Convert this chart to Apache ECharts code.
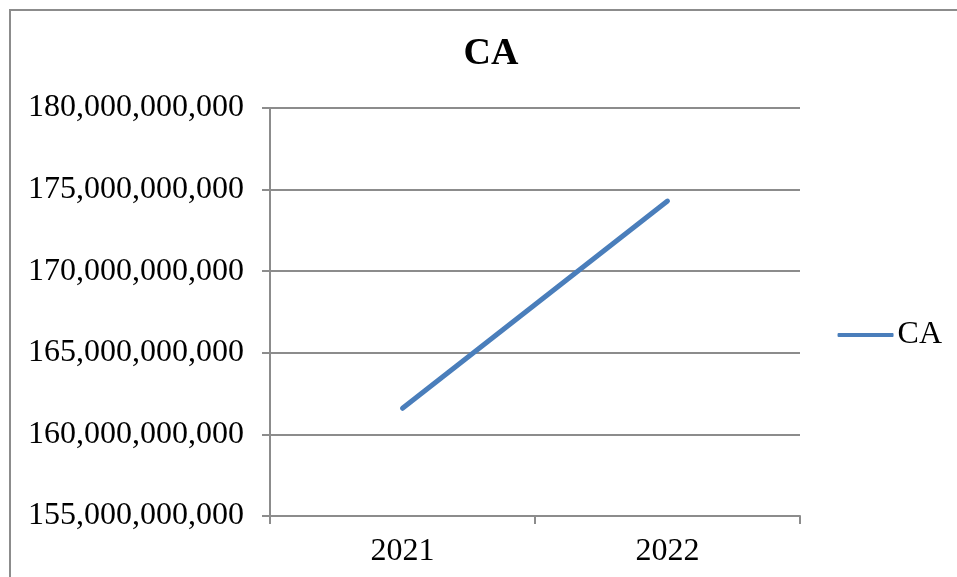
<!DOCTYPE html>
<html>
<head>
<meta charset="utf-8">
<script src="https://cdn.jsdelivr.net/npm/echarts@6/dist/echarts.min.js"></script>
<style>
  html, body { margin: 0; padding: 0; background: #fff; }
  #chart { width: 957px; height: 577px; }
</style>
</head>
<body>
<div id="chart"></div>
<script>
const years = ['2021', '2022'];
const caValues = [161600000000, 174300000000];

const chart = echarts.init(document.getElementById('chart'));
const serif = '"Liberation Serif", "Times New Roman", serif';

chart.setOption({
  backgroundColor: '#fff',
  animation: false,
  // outer chart frame (only left and top edges are inside the picture)
  graphic: [{
    type: 'polyline',
    shape: { points: [[10, 600], [10, 10], [980, 10]] },
    style: { fill: null, stroke: '#8c8c8c', lineWidth: 2 },
    silent: true
  }],
  title: {
    text: 'CA',
    left: 486,
    top: 30,
    textAlign: 'center',
    textStyle: { fontFamily: serif, fontSize: 38, fontWeight: 'bold', color: '#000' }
  },
  legend: {
    right: 10,
    top: 314,
    orient: 'vertical',
    itemWidth: 56,
    itemHeight: 4,
    itemGap: 0,
    icon: 'roundRect',
    textStyle: { fontFamily: serif, fontSize: 32, color: '#000', padding: [0, 0, 0, -1] },
    data: ['CA']
  },
  grid: { left: 270, right: 157, top: 108, bottom: 61, containLabel: false },
  xAxis: {
    type: 'category',
    data: years,
    boundaryGap: true,
    axisLine: { lineStyle: { color: '#8c8c8c', width: 2 } },
    axisTick: { show: true, length: 8, lineStyle: { color: '#8c8c8c', width: 2 } },
    axisLabel: { fontFamily: serif, fontSize: 32, color: '#000', margin: 20 },
    splitLine: { show: false }
  },
  yAxis: {
    type: 'value',
    min: 155000000000,
    max: 180000000000,
    interval: 5000000000,
    axisLine: { show: true, lineStyle: { color: '#8c8c8c', width: 2 } },
    axisTick: { show: true, length: 8, lineStyle: { color: '#8c8c8c', width: 2 } },
    axisLabel: {
      fontFamily: serif, fontSize: 32, color: '#000', margin: 26,
      formatter: v => v.toLocaleString('en-US')
    },
    splitLine: { show: true, lineStyle: { color: '#8c8c8c', width: 2 } }
  },
  series: [{
    name: 'CA',
    type: 'line',
    data: caValues,
    symbol: 'none',
    lineStyle: { color: '#4a7ebb', width: 5, cap: 'round' },
    itemStyle: { color: '#4a7ebb' }
  }]
});
</script>
</body>
</html>
